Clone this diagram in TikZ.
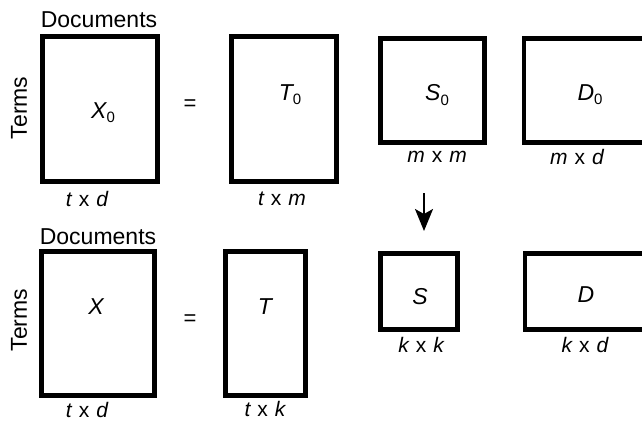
\documentclass[tikz,border=0pt]{standalone}
\usepackage{fontspec}
\setmainfont{Liberation Sans}
\usetikzlibrary{arrows.meta}
\newcommand{\mysub}[1]{\raisebox{-0.35ex}{\upshape\fontsize{15}{15}\selectfont #1}}
\tikzset{
  mat/.style={draw, line width=4.4pt, inner sep=0pt},
  lab/.style={font=\fontsize{23}{23}\selectfont\itshape, inner sep=0pt},
  dim/.style={font=\fontsize{21}{21}\selectfont, inner sep=0pt},
  head/.style={font=\fontsize{23}{23}\selectfont, inner sep=0pt},
  eq/.style={font=\fontsize{22}{22}\selectfont, inner sep=0pt}
}
\begin{document}
\begin{tikzpicture}[x=1pt,y=-1pt]
\useasboundingbox (0,0) rectangle (642,424);
\clip (0,0) rectangle (642,424);
% top row
\node[mat, minimum width=115pt, minimum height=145pt] (x0) at (100,109) {};
\node[mat, minimum width=105pt, minimum height=145pt] (t0) at (284,109) {};
\node[mat, minimum width=104pt, minimum height=104pt] (s0) at (432.5,90.5) {};
\node[mat, minimum width=130pt, minimum height=104pt] (d0) at (589,90.5) {};
\node[lab] (x0l) at (103,113) {X\mysub{0}};
\node[lab] (t0l) at (290,95) {T\mysub{0}};
\node[lab] (s0l) at (437,95) {S\mysub{0}};
\node[lab] (d0l) at (590,95) {D\mysub{0}};
\node[head] (doc0) at (99,20) {Documents};
\node[head, rotate=90] (ter0) at (19,108) {Terms};
\node[eq] (eq0) at (190,105) {=};
\node[dim] (dx0) at (87,199) {{\itshape t}\,\,x\,\,{\itshape d}};
\node[dim] (dt0) at (282,199) {{\itshape t}\,\,x\,\,{\itshape m}};
\node[dim] (ds0) at (437,157) {{\itshape m}\,\,x\,\,{\itshape m}};
\node[dim] (dd0) at (577,157) {{\itshape m}\,\,x\,\,{\itshape d}};
% arrow
\coordinate (atop) at (424,193);
\coordinate (abot) at (424,231);
\draw[line width=2pt, -{Stealth[length=22pt, width=18pt, inset=5pt]}] (atop) -- (abot);
% bottom row
\node[mat, minimum width=113pt, minimum height=144pt] (x) at (98,323.5) {};
\node[mat, minimum width=80pt, minimum height=144pt] (t) at (265.5,323.5) {};
\node[mat, minimum width=77pt, minimum height=76pt] (s) at (419,291.5) {};
\node[mat, minimum width=130pt, minimum height=76pt] (d) at (590,291.5) {};
\node[lab] (xl) at (96,307) {X};
\node[lab] (tl) at (265,307) {T};
\node[lab] (sl) at (420,297) {S};
\node[lab] (dl) at (586,295) {D};
\node[head] (doc) at (98,237) {Documents};
\node[head, rotate=90] (ter) at (19,320) {Terms};
\node[eq] (eq) at (190,320) {=};
\node[dim] (dx) at (87,410) {{\itshape t}\,\,x\,\,{\itshape d}};
\node[dim] (dt) at (265,409) {{\itshape t}\,\,x\,\,{\itshape k}};
\node[dim] (ds) at (421,345) {{\itshape k}\,\,x\,\,{\itshape k}};
\node[dim] (dd) at (585,345) {{\itshape k}\,\,x\,\,{\itshape d}};
\end{tikzpicture}
\end{document}
